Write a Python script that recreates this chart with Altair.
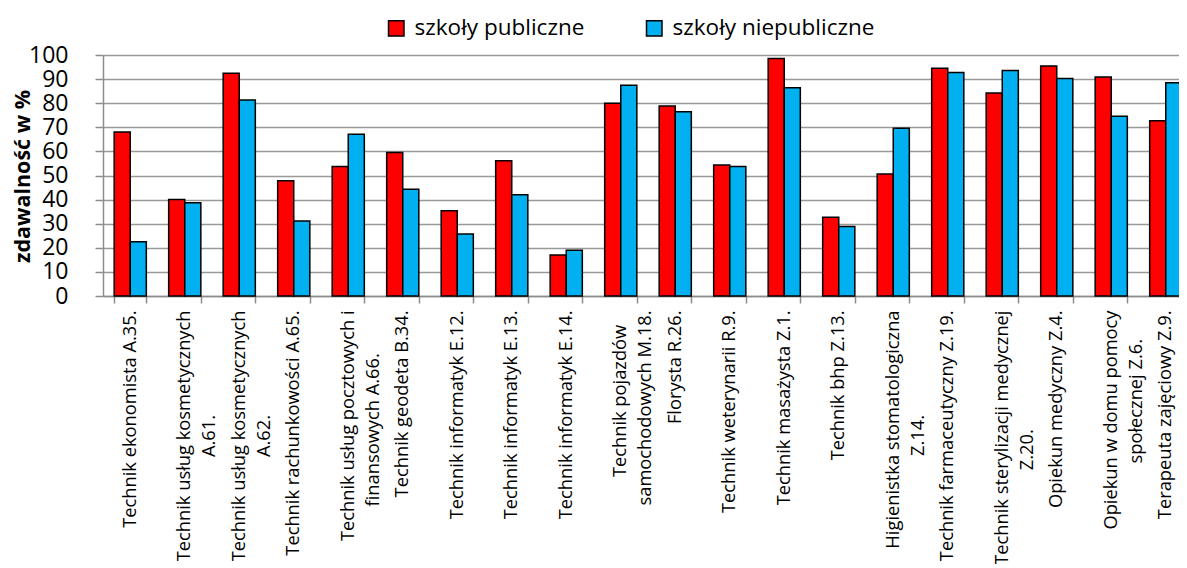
import altair as alt
import pandas as pd

categories = [
    "Technik ekonomista A.35.",
    "Technik usług kosmetycznych\nA.61.",
    "Technik usług kosmetycznych\nA.62.",
    "Technik rachunkowości A.65.",
    "Technik usług pocztowych i\nfinansowych A.66.",
    "Technik geodeta B.34.",
    "Technik informatyk E.12.",
    "Technik informatyk E.13.",
    "Technik informatyk E.14.",
    "Technik pojazdów\nsamochodowych M.18.",
    "Florysta R.26.",
    "Technik weterynarii R.9.",
    "Technik masażysta Z.1.",
    "Technik bhp Z.13.",
    "Higienistka stomatologiczna\nZ.14.",
    "Technik farmaceutyczny Z.19.",
    "Technik sterylizacji medycznej\nZ.20.",
    "Opiekun medyczny Z.4.",
    "Opiekun w domu pomocy\nspołecznej Z.6.",
    "Terapeuta zajęciowy Z.9.",
]
publiczne = [68, 40, 92.4, 47.8, 53.7, 59.5, 35.4, 56.1, 17, 80, 78.8, 54.4, 98.5, 32.7, 50.6, 94.5, 84.2, 95.4, 90.9, 72.7]
niepubliczne = [22.5, 38.7, 81.3, 31.1, 67.1, 44.3, 25.7, 42, 19, 87.4, 76.5, 53.7, 86.4, 28.8, 69.6, 92.7, 93.6, 90.2, 74.6, 88.5]
series = ["szkoły publiczne", "szkoły niepubliczne"]
colors = ["#FF0000", "#00B0F0"]

rows = []
for c, p, n in zip(categories, publiczne, niepubliczne):
    rows.append({"kat": c, "seria": series[0], "val": p})
    rows.append({"kat": c, "seria": series[1], "val": n})
df = pd.DataFrame(rows)

FONT = "Open Sans"
NB = "\u00a0"   # no-break space used to centre the shorter line
ZW = "\u200b"   # zero-width guard so the padding is not trimmed

# centre the lines of two-line labels against each other (Excel-style)
L0 = "split(datum.label, '\\n')[0]"
L1 = "split(datum.label, '\\n')[1]"
M = f"max(length({L0}), length({L1}))"
label_expr = (
    f"indexof(datum.label, '\\n') < 0 ? datum.label : "
    f"[pad({L0}, {M}, '{NB}') + '{ZW}', "
    f"pad({L1}, {M}, '{NB}') + '{ZW}']"
)

chart = alt.Chart(df).mark_bar(stroke="black", strokeWidth=1.5).encode(
    x=alt.X(
        "kat:N",
        sort=categories,
        scale=alt.Scale(paddingInner=0.41, paddingOuter=0.205),
        axis=alt.Axis(
            title=None,
            labelAngle=-90,
            labelExpr=label_expr,
            labelFont=FONT,
            labelFontSize=18.3,
            labelColor="black",
            labelLineHeight=25,
            labelPadding=7,
            labelLimit=500,
            tickBand="extent",
            tickSize=7,
            tickColor="#8c8c8c",
            tickWidth=1.5,
            domainColor="#8c8c8c",
            domainWidth=1.5,
            grid=False,
        ),
    ),
    xOffset=alt.XOffset("seria:N", sort=series, scale=alt.Scale(paddingInner=0, paddingOuter=0)),
    y=alt.Y(
        "val:Q",
        scale=alt.Scale(domain=[0, 100], nice=False),
        axis=alt.Axis(
            title="zdawalność w %",
            titleFont=FONT,
            titleFontSize=21.5,
            titleFontWeight="bold",
            titleColor="black",
            titleX=-80,
            titleY=121,
            titleBaseline="middle",
            titleAngle=270,
            values=list(range(0, 101, 10)),
            labelFont=FONT,
            labelFontSize=23,
            labelColor="black",
            labelPadding=27,
            tickSize=8,
            tickColor="#8c8c8c",
            tickWidth=1.5,
            domainColor="#8c8c8c",
            domainWidth=1.5,
            gridColor="#999999",
            gridWidth=1.5,
        ),
    ),
    fill=alt.Fill(
        "seria:N",
        sort=series,
        scale=alt.Scale(domain=series, range=colors),
        legend=alt.Legend(
            title=None,
            orient="none",
            legendX=282,
            legendY=-38,
            direction="horizontal",
            symbolType="square",
            symbolSize=240,
            symbolStrokeColor="black",
            symbolStrokeWidth=1.5,
            labelFont=FONT,
            labelFontSize=22.5,
            labelColor="black",
            labelOffset=7,
            columnPadding=58,
            labelLimit=400,
        ),
    ),
).properties(
    width=1090,
    height=241,
    autosize=alt.AutoSizeParams(type="none"),
    padding={"left": 95, "top": 47, "right": -14, "bottom": 268},
).configure_view(stroke=None)

chart.save("out.html", embed_options={"renderer": "svg", "actions": False})
